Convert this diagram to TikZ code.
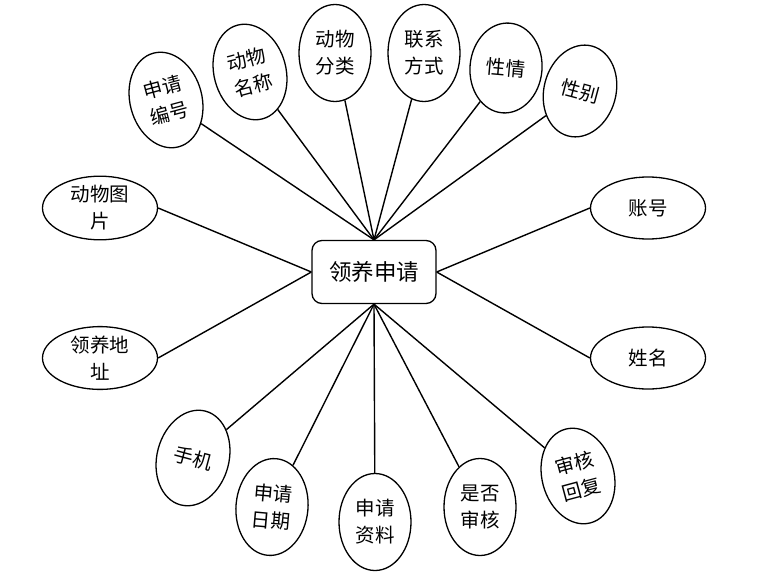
\documentclass[tikz,border=0pt]{standalone}
\usepackage{fontspec}
\newfontfamily\cjk{Noto Sans CJK SC}
\usetikzlibrary{shapes.geometric}

\begin{document}
\begin{tikzpicture}[x=1pt,y=-1pt,font=\cjk,
  apply/.style={draw,line width=1.3pt,rounded corners=10pt,minimum width=124pt,
    minimum height=63pt,font=\cjk\fontsize{22.5}{26}\selectfont},
  tall/.style={ellipse,draw,line width=1.3pt,minimum width=72pt,minimum height=97pt,
    inner sep=0pt,align=center,font=\cjk\fontsize{19.5}{27}\selectfont},
  wide/.style={ellipse,draw,line width=1.3pt,minimum width=115pt,minimum height=62pt,
    inner sep=0pt,align=center,font=\cjk\fontsize{19.5}{27}\selectfont},
  link/.style={line width=1.4pt}]
  \useasboundingbox (0,0) rectangle (778,578);
  \node[apply] (req) at (374,272) {领养申请};
  \node[tall,rotate=15] (no) at (166,100) {申请\\编号};
  \node[tall,rotate=15] (name) at (250,72) {动物\\名称};
  \node[tall] (kind) at (335,53) {动物\\分类};
  \node[tall] (contact) at (424,53) {联系\\方式};
  \node[tall,rotate=-5,minimum height=90pt] (temper) at (506,68) {性情};
  \node[tall,rotate=-15,minimum height=93pt] (sex) at (580,91) {性别};
  \node[wide] (photo) at (100,208) {动物图\\片};
  \node[wide] (addr) at (100,358) {领养地\\址};
  \node[wide] (acct) at (648,208) {账号};
  \node[wide] (uname) at (648,358) {姓名};
  \node[tall,rotate=-15] (phone) at (193,458) {手机};
  \node[tall,rotate=-5] (date) at (272,507) {申请\\日期};
  \node[tall] (doc) at (375,522) {申请\\资料};
  \node[tall] (check) at (480,507) {是否\\审核};
  \node[tall,rotate=15] (reply) at (578,476) {审核\\回复};
  \foreach \a in {no,name,kind,contact,temper,sex}
    \draw[link] (req.north) -- (\a);
  \foreach \a in {phone,date,doc,check,reply}
    \draw[link] (req.south) -- (\a);
  \draw[link] (req.west) -- (photo.east); \draw[link] (req.west) -- (addr.east);
  \draw[link] (req.east) -- (acct.west); \draw[link] (req.east) -- (uname.west);
\end{tikzpicture}
\end{document}
